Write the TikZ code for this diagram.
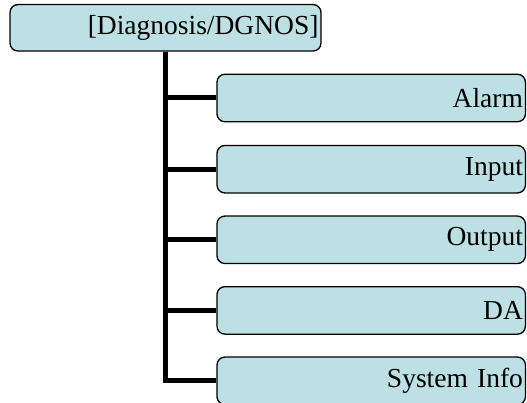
\documentclass[tikz,border=0pt]{standalone}
\usepackage{fontspec}
\setmainfont{Liberation Serif}
\definecolor{boxfill}{RGB}{188,224,227}
\tikzset{
  box/.style={draw=black, line width=1.3pt, fill=boxfill, rounded corners=8pt,
    minimum height=47.5pt, inner xsep=2.5pt, align=right,
    font=\fontsize{27.5}{30}\selectfont},
  rootbox/.style={box, text width=306pt, minimum height=46.5pt},
  childbox/.style={box, text width=303.5pt},
  conn/.style={draw=black, line width=5pt}
}
\begin{document}
\begin{tikzpicture}[x=1pt,y=-1pt]
\useasboundingbox (0,0) rectangle (527,403);
\node[rootbox] (root) at (165.5,27.8) {[Diagnosis/DGNOS]};
\node[childbox] (alarm) at (371.2,98) {Alarm};
\node[childbox] (input) at (371.2,169.2) {Input};
\node[childbox] (output) at (371.2,239.8) {Output};
\node[childbox] (da) at (371.2,310.4) {DA};
\node[childbox] (sys) at (371.2,380.8) {System Info};
\draw[conn] (root.south) |- (alarm.west);
\draw[conn] (root.south) |- (input.west);
\draw[conn] (root.south) |- (output.west);
\draw[conn] (root.south) |- (da.west);
\draw[conn] (root.south) |- (sys.west);
\end{tikzpicture}
\end{document}
